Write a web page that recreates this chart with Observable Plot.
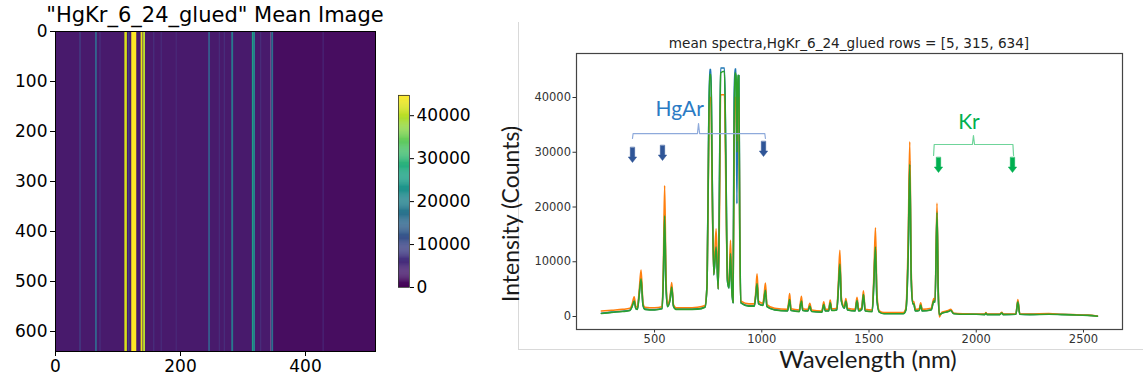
<!DOCTYPE html>
<html>
<head>
<meta charset="utf-8">
<script src="https://cdn.jsdelivr.net/npm/d3@7"></script>
<script src="https://cdn.jsdelivr.net/npm/@observablehq/plot@0.6"></script>
<style>
  html, body { margin: 0; padding: 0; background: #fff; }
  #wrap { position: relative; width: 1143px; height: 381px; overflow: hidden; background: #fff; }
  .abs { position: absolute; }
  .mpl { font-family: "DejaVu Sans", sans-serif; color: #000; }
  .ppt { font-family: Lato, "Open Sans", sans-serif; color: #1a1a1a; }
</style>
</head>
<body>
<div id="wrap">
  <div class="abs mpl" style="left:15px;top:5px;width:400px;text-align:center;font-size:21px;line-height:21px;">"HgKr_6_24_glued" Mean Image</div>
  <div id="heat" class="abs" style="left:0;top:0;"></div>
  <div id="cbar" class="abs" style="left:380px;top:0;"></div>
  <div class="abs" style="left:518px;top:22px;width:1px;height:327px;background:#d9d9d9;"></div>
  <div class="abs" style="left:518px;top:349px;width:625px;height:1px;background:#d9d9d9;"></div>
  <div id="spec" class="abs" style="left:520px;top:0;"></div>
  <div class="abs mpl" style="left:549px;top:36px;width:600px;text-align:center;font-size:13.6px;line-height:14px;color:#222;">mean spectra,HgKr_6_24_glued rows = [5, 315, 634]</div>
  <div class="abs ppt" style="left:718px;top:349px;width:300px;text-align:center;font-size:24px;line-height:20px;">Wavelength (nm)</div>
  <div class="abs ppt" style="left:410px;top:201px;width:200px;height:26px;text-align:center;font-size:23px;line-height:26px;transform:rotate(-90deg);">Intensity (Counts)</div>
</div>
<script>
// ---------- Left panel: mean image (column profile, constant along rows) ----------
const imageCols = 512;
const imageRows = 640;
const bgStartCol = [0, 345];
const bgEndCol = [345, 512];
const bgValue = [3000, 1500];
const lineStartCol = [39, 64, 71, 111, 117, 122, 137, 141, 157, 169, 193, 245, 262, 270, 282, 315, 318, 328, 346, 428];
const lineWidthCols = [2, 3, 2, 4, 2, 8, 3, 3, 2, 2, 2, 3, 2, 2, 3, 3, 2, 2, 3, 2];
const lineValue = [9000, 14000, 6000, 42000, 9000, 45500, 43000, 40000, 6000, 5500, 5000, 12500, 5500, 5500, 18000, 25000, 20000, 5500, 16000, 4500];
const heatXTicks = [0, 200, 400];
const heatYTicks = [0, 100, 200, 300, 400, 500, 600];
const colorMax = 44700;
const colorbarTicks = [0, 10000, 20000, 30000, 40000];

// ---------- Right panel: mean spectra ----------
const wavelength = [252,300,350,385,395,405,413,420,428,437,446,455,500,535,541,547,553,560,572,580,588,600,650,700,735,745,752,757,763,768,776,787,797,803,808,826,832,840,847,854,860,866,871,875,880,884,888,893,897,903,940,965,972,978,985,1005,1011,1017,1024,1060,1120,1125,1130,1136,1175,1180,1185,1191,1215,1224,1232,1280,1289,1296,1312,1319,1326,1350,1357,1364,1371,1385,1392,1400,1435,1444,1452,1466,1474,1482,1515,1523,1530,1537,1548,1570,1660,1672,1683,1690,1697,1704,1709,1716,1734,1741,1748,1790,1802,1808,1817,1823,1828,1840,1870,1881,1895,1950,2000,2040,2045,2050,2110,2119,2126,2185,2194,2203,2250,2338,2400,2450,2520,2565];
const row315 = [1000,1150,1300,1500,2200,3600,1800,1700,4500,8500,2500,1700,1600,1800,9000,23900,8000,2200,3500,6200,2200,1600,1600,1700,2000,6000,30000,40000,40000,25000,7800,16000,5100,20000,40500,40500,25000,7000,5800,13900,6000,2700,30000,40000,40000,32000,40000,40000,15000,2800,2300,2300,4500,7800,2800,2400,4000,6100,2200,1500,1300,2500,4200,1400,1200,2500,3700,1400,1300,2400,1200,1000,2700,1300,1300,3000,1400,1500,6000,12100,3500,1800,3300,1500,1300,3500,1300,1600,4700,1300,1200,8000,16200,4000,1000,700,700,1500,15000,31900,8000,2800,2700,1300,1400,2500,1300,1500,3300,3000,20700,5000,-100,800,1100,1300,600,500,450,450,700,450,450,750,450,500,3100,500,450,550,400,350,250,100];
const row634 = [550,750,900,1100,1800,2800,1400,1300,3800,6900,2100,1300,1200,1400,7000,18400,6000,1800,3000,5400,1900,1300,1300,1350,1700,6000,32000,44200,44200,28000,7600,12700,5000,25000,44500,44800,30000,6500,5200,11500,5000,2500,35000,44500,44000,30000,44000,44000,18000,2500,1900,1900,3800,6000,2300,2000,3300,4800,1800,1200,1000,2000,3100,1100,900,2000,2800,1100,1000,1900,900,800,2200,1000,1000,2500,1100,1200,5000,9600,2800,1500,2800,1200,1000,2900,1000,1300,4000,1000,900,6500,12700,3000,800,500,500,1200,12000,27800,6500,2300,2300,1000,1100,2100,1000,1200,2800,2600,19000,4000,300,600,900,1100,500,400,400,350,600,350,350,650,350,400,2700,400,350,400,350,300,200,50];
const row5 = [600,800,950,1150,1850,2900,1450,1350,3900,7000,2150,1350,1250,1450,7200,18800,6200,1850,3050,5500,1950,1350,1350,1400,1750,6000,33000,45100,45100,28000,7600,13000,5000,26000,45400,45400,30000,6500,5200,11800,5000,2500,40000,45200,45200,20600,44000,44000,18000,2500,1950,1950,3900,6200,2350,2050,3400,5000,1850,1250,1050,2050,3200,1150,950,2050,2900,1150,1050,1950,950,850,2250,1050,1050,2550,1150,1250,5100,9900,2900,1550,2850,1250,1050,2950,1050,1350,4100,1050,950,6700,13000,3100,850,550,550,1250,12500,28500,6700,2350,2350,1050,1150,2150,1050,1250,2850,2650,19300,4100,300,650,950,1150,550,450,420,380,620,380,380,680,380,420,2800,420,380,450,370,320,220,80];
const specXTicks = [500, 1000, 1500, 2000, 2500];
const specYTicks = [0, 10000, 20000, 30000, 40000];

// ---------- Annotations (data coordinates) ----------
const hgArrowNm = [397, 537, 1008];
const hgArrowTop = [30870, 31230, 31960];
const krArrowNm = [1824, 2169];
const krArrowTop = [29040, 29040];
const hgBraceNm = [397, 400, 700, 705, 710, 1014, 1017];
const hgBraceVal = [32510, 33420, 33420, 35250, 33420, 33420, 32510];
const krBraceNm = [1801, 1804, 1982, 1987, 1992, 2171, 2174];
const krBraceVal = [29410, 31420, 31420, 33060, 31420, 31420, 29410];
const labelText = ["HgAr", "Kr"];
const labelNm = [617, 1966];
const labelVal = [37900, 35500];

// ---------------- build tables ----------------
const bgRects = bgStartCol.map((s, i) => ({x1: s, x2: bgEndCol[i], v: bgValue[i]}));
const lineRects = lineStartCol.map((s, i) => ({x1: s, x2: s + lineWidthCols[i], v: lineValue[i]}));
const colorScale = {type: "linear", scheme: "viridis", domain: [0, colorMax]};

const heat = Plot.plot({
  width: 380, height: 381,
  marginLeft: 55, marginRight: 5, marginTop: 31, marginBottom: 30,
  style: {fontFamily: "DejaVu Sans", fontSize: "17px", color: "#000", background: "transparent", overflow: "visible"},
  x: {domain: [0, imageCols], ticks: heatXTicks, tickSize: 5, tickPadding: 3, label: null, tickFormat: "d"},
  y: {domain: [0, imageRows], reverse: true, ticks: heatYTicks, tickSize: 5, tickPadding: 3, label: null, tickFormat: "d"},
  color: colorScale,
  marks: [
    Plot.rect(bgRects, {x1: "x1", x2: "x2", y1: 0, y2: imageRows, fill: "v"}),
    Plot.rect(lineRects, {x1: "x1", x2: "x2", y1: 0, y2: imageRows, fill: "v"}),
    Plot.frame({stroke: "#000", strokeWidth: 1})
  ]
});
document.getElementById("heat").appendChild(heat);

const steps = d3.range(0, 200).map(i => ({y1: i * colorMax / 200, y2: (i + 1.2) * colorMax / 200, v: (i + 0.5) * colorMax / 200}));
const cbar = Plot.plot({
  width: 120, height: 381,
  marginLeft: 18, marginRight: 91, marginTop: 95, marginBottom: 94,
  style: {fontFamily: "DejaVu Sans", fontSize: "17px", color: "#000", background: "transparent", overflow: "visible"},
  x: {domain: [0, 1], axis: null},
  y: {domain: [0, colorMax], ticks: colorbarTicks, tickFormat: "d", tickSize: 4, tickPadding: 3, label: null, axis: "right"},
  color: colorScale,
  marks: [
    Plot.rect(steps, {x1: 0, x2: 1, y1: "y1", y2: "y2", fill: "v"}),
    Plot.frame({stroke: "#333", strokeWidth: 0.8})
  ]
});
document.getElementById("cbar").appendChild(cbar);

const spec = wavelength.map((w, i) => ({wl: w, r5: row5[i], r315: row315[i], r634: row634[i]}));
const hgArrows = hgArrowNm.map((x, i) => ({x, y: hgArrowTop[i]}));
const krArrows = krArrowNm.map((x, i) => ({x, y: krArrowTop[i]}));
const hgBrace = hgBraceNm.map((x, i) => ({x, y: hgBraceVal[i]}));
const krBrace = krBraceNm.map((x, i) => ({x, y: krBraceVal[i]}));
const labels = labelText.map((t, i) => ({t, x: labelNm[i], y: labelVal[i]}));

const blockArrow = {
  draw(ctx, l) {
    const w = 2.2, hw = 4.2, hl = 5.5;
    ctx.moveTo(-w, 0);
    ctx.lineTo(-w, -(l - hl));
    ctx.lineTo(-hw, -(l - hl));
    ctx.lineTo(0, -l);
    ctx.lineTo(hw, -(l - hl));
    ctx.lineTo(w, -(l - hl));
    ctx.lineTo(w, 0);
    ctx.closePath();
  }
};

const specPlot = Plot.plot({
  width: 623, height: 381,
  marginLeft: 56, marginRight: 21, marginTop: 53, marginBottom: 52,
  style: {fontFamily: "DejaVu Sans", fontSize: "11.5px", color: "#333", background: "transparent", overflow: "visible"},
  x: {domain: [136, 2682], ticks: specXTicks, tickFormat: "d", tickSize: 3.5, tickPadding: 2, label: null},
  y: {domain: [-2374, 48037], ticks: specYTicks, tickFormat: "d", tickSize: 3.5, tickPadding: 2, label: null},
  marks: [
    Plot.line(spec, {x: "wl", y: "r5", stroke: "#1f77b4", strokeWidth: 1.6, curve: "monotone-x"}),
    Plot.line(spec, {x: "wl", y: "r315", stroke: "#ff7f0e", strokeWidth: 1.6, curve: "monotone-x"}),
    Plot.line(spec, {x: "wl", y: "r634", stroke: "#2ca02c", strokeWidth: 1.6, curve: "monotone-x"}),
    Plot.line(hgBrace, {x: "x", y: "y", stroke: "#8eaadb", strokeWidth: 1.2}),
    Plot.line(krBrace, {x: "x", y: "y", stroke: "#6fd49a", strokeWidth: 1.2}),
    Plot.vector(hgArrows, {x: "x", y: "y", length: 15, rotate: 180, anchor: "start", shape: blockArrow, fill: "#2f5597", stroke: "#2f5597", strokeWidth: 0.5}),
    Plot.vector(krArrows, {x: "x", y: "y", length: 15, rotate: 180, anchor: "start", shape: blockArrow, fill: "#00b050", stroke: "#00b050", strokeWidth: 0.5}),
    Plot.text(labels.slice(0, 1), {x: "x", y: "y", text: "t", fill: "#2b7bc4", fontSize: 21, fontFamily: "Lato"}),
    Plot.text(labels.slice(1), {x: "x", y: "y", text: "t", fill: "#00b050", fontSize: 21, fontFamily: "Lato"}),
    Plot.frame({stroke: "#444", strokeWidth: 1.2})
  ]
});
document.getElementById("spec").appendChild(specPlot);
</script>
</body>
</html>
